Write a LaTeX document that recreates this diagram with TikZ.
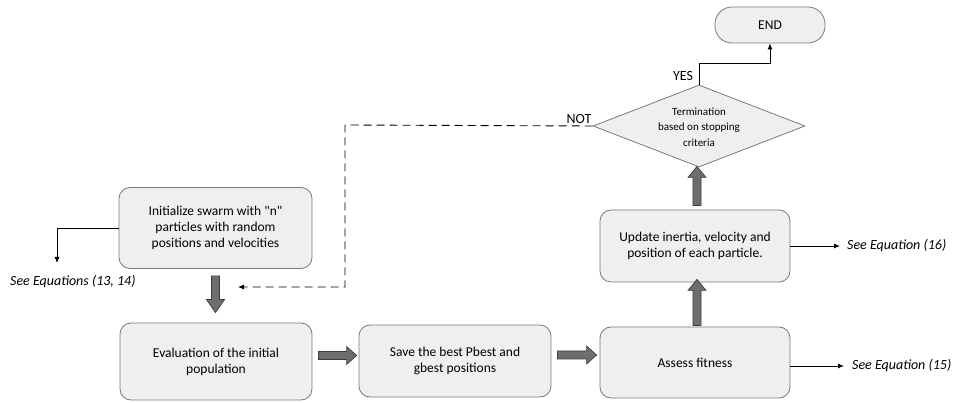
\documentclass[tikz,border=0pt]{standalone}
\usepackage{fontspec}
\setmainfont{Carlito}
\usetikzlibrary{shapes.geometric,arrows.meta,calc}
\definecolor{boxfill}{HTML}{EFEFEF}
\definecolor{boxline}{HTML}{7A7A7A}
\definecolor{fatfill}{HTML}{6E6E6E}
\definecolor{fatline}{HTML}{3C3C3C}
\tikzset{
  procbox/.style={draw=boxline, fill=boxfill, line width=0.8pt, rounded corners=11pt,
    align=center, inner sep=0pt, font=\fontsize{13.5}{16}\selectfont},
  decbox/.style={draw=boxline, fill=boxfill, line width=0.8pt, diamond, aspect=2.585,
    inner sep=0pt, minimum width=212pt, minimum height=82pt},
  endbox/.style={draw=boxline, fill=boxfill, line width=0.8pt, rounded corners=17pt,
    minimum width=110pt, minimum height=36pt, inner sep=0pt, font=\fontsize{13.5}{16}\selectfont},
  eqlabel/.style={font=\fontsize{14}{16}\selectfont\itshape, inner sep=0pt},
  plainlabel/.style={font=\fontsize{14}{16}\selectfont, inner sep=0pt},
  thinarrow/.style={draw=black, line width=0.9pt, -{Latex[length=6pt,width=5pt]}},
  loopback/.style={draw=black, line width=0.9pt, dash pattern=on 8pt off 5pt, -{Latex[length=6pt,width=5pt]}},
  fat/.style={draw=fatline, fill=fatfill, line width=0.7pt, line join=miter},
}
\newcommand\fatR[2]{\draw[fat] let \p1=(#1), \p2=(#2) in
  (\x1,\y1+4pt) -- (\x2-10pt,\y1+4pt) -- (\x2-10pt,\y1+9pt) -- (\x2,\y1) --
  (\x2-10pt,\y1-9pt) -- (\x2-10pt,\y1-4pt) -- (\x1,\y1-4pt) -- cycle;}
\newcommand\fatU[2]{\draw[fat] let \p1=(#1), \p2=(#2) in
  (\x1-4pt,\y1) -- (\x1-4pt,\y2-11pt) -- (\x1-9pt,\y2-11pt) -- (\x1,\y2) --
  (\x1+9pt,\y2-11pt) -- (\x1+4pt,\y2-11pt) -- (\x1+4pt,\y1) -- cycle;}
\newcommand\fatD[2]{\draw[fat] let \p1=(#1), \p2=(#2) in
  (\x1-4pt,\y1) -- (\x1-4pt,\y2+13pt) -- (\x1-9pt,\y2+13pt) -- (\x1,\y2) --
  (\x1+9pt,\y2+13pt) -- (\x1+4pt,\y2+13pt) -- (\x1+4pt,\y1) -- cycle;}
\begin{document}
\begin{tikzpicture}[x=1pt,y=-1pt]
\useasboundingbox[fill=white] (0,0) rectangle (959,403);

% process boxes
\node[procbox, minimum width=193pt, minimum height=81pt] (init) at (215.5,228)
  {Initialize swarm with \textquotedbl n\textquotedbl\\particles with random\\positions and velocities};
\node[procbox, minimum width=192pt, minimum height=77pt] (eval) at (216,361.5)
  {Evaluation of the initial\\population};
\node[procbox, minimum width=192pt, minimum height=72pt] (save) at (455,361)
  {Save the best Pbest and\\gbest positions};
\node[procbox, minimum width=190pt, minimum height=71pt] (assess) at (695,362.5)
  {Assess fitness};
\node[procbox, minimum width=190pt, minimum height=72pt] (update) at (695,246)
  {Update inertia, velocity and\\position of each particle.};
\node[decbox] (term) at (699,126) {};
\node[align=center, inner sep=0pt, font=\fontsize{11}{15.5}\selectfont] (termtext) at (699,127)
  {Termination\\based on stopping\\criteria};
\node[endbox] (end) at (770,25) {END};

% labels
\node[eqlabel, anchor=west] (eq1314) at (10,282) {See Equations (13, 14)};
\node[eqlabel, anchor=west] (eq16) at (847,246) {See Equation (16)};
\node[eqlabel, anchor=west] (eq15) at (852,366) {See Equation (15)};
\node[plainlabel] (yes) at (683,76) {YES};
\node[plainlabel, anchor=south] (no) at (579,124) {NOT};

% coordinates for connectors
\coordinate (c1) at (57,228);
\coordinate (c1e) at (57,263);
\coordinate (c2) at (699,63);
\coordinate (c3) at (770,63);
\coordinate (c4) at (345,125);
\coordinate (c5) at (345,287);
\coordinate (c5e) at (238,287);
\coordinate (u1) at (840,246);
\coordinate (a1) at (844,366);

% thin connectors
\draw[thinarrow] (init.west) -- (c1) -- (c1e);
\draw[thinarrow] (term.north) -- (c2) -- (c3) -- (end.south);
\draw[loopback] (term.west) -- (c4) -- (c5) -- (c5e);
\draw[thinarrow] (update.east) -- (u1);
\draw[thinarrow] ($(assess.east)+(0,3.5)$) -- (a1);

% fat arrows
\coordinate (f1s) at ($(init.south)+(0,7)$);
\coordinate (f1e) at ($(eval.north)+(0,-10)$);
\fatD{f1s}{f1e}
\coordinate (f2s) at ($(eval.east)+(6,-6)$);
\coordinate (f2e) at ($(save.west)+(-2,-6)$);
\fatR{f2s}{f2e}
\coordinate (f3s) at ($(save.east)+(6,-6)$);
\coordinate (f3e) at ($(assess.west)+(-3,-7)$);
\fatR{f3s}{f3e}
\coordinate (f4s) at ($(assess.north)+(2,-1)$);
\coordinate (f4e) at ($(update.south)+(2,-3)$);
\fatU{f4s}{f4e}
\coordinate (f5s) at ($(update.north)+(2,-4)$);
\coordinate (f5e) at ($(term.south)+(0,-1)$);
\fatU{f5s}{f5e}
\end{tikzpicture}
\end{document}
